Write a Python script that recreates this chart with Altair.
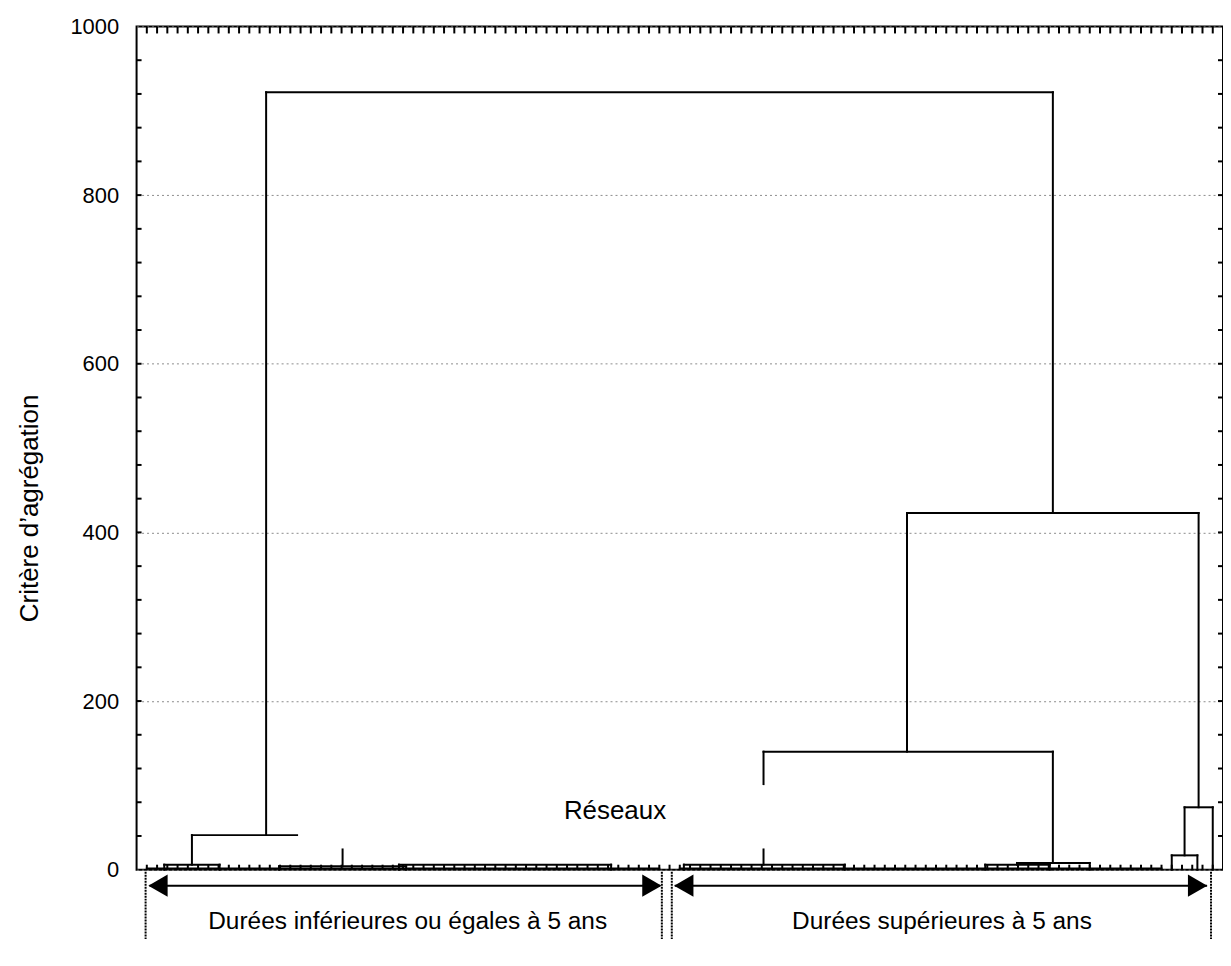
import altair as alt
import pandas as pd

# ---------------- data ----------------
n_leaves = 105
leaf_positions = list(range(1, n_leaves + 1))

# horizontal links of the dendrogram (left x, right x, merge height)
link_x_left = [12.64, 75.17, 61.17, 5.40, 2.70, 13.90, 25.60, 53.40, 85.90, 82.80, 102.25, 101.00,
               1.00, 53.00]
link_x_right = [89.40, 103.62, 89.40, 15.66, 8.10, 26.30, 46.30, 69.10, 93.00, 89.10, 105.00, 103.50,
                51.00, 100.00]
link_height = [922, 423, 140, 41, 6, 4, 6, 6, 8, 6, 74, 17,
               1.5, 1.5]

# vertical branches (x, bottom height, top height)
vert_x = [12.64, 89.40, 75.17, 103.62, 61.17, 61.17, 89.40, 5.40, 20.10, 102.25, 105.00, 101.00, 103.50,
          2.70, 8.10, 13.90, 26.30, 25.60, 46.30, 53.40, 69.10, 82.80, 89.10, 85.90, 93.00]
vert_bottom = [41, 423, 140, 74, 101.5, 6, 8, 6, 4, 17, 0, 0, 0,
               0, 0, 0, 0, 0, 0, 0, 0, 0, 0, 6, 0]
vert_top = [922, 922, 423, 423, 140, 24, 140, 41, 24, 74, 74, 17, 17,
            6, 6, 4, 4, 6, 6, 6, 6, 6, 6, 8, 8]

y_labels = [0, 200, 400, 600, 800, 1000]
y_minor = list(range(40, 1000, 40))

# annotations below the plot
group_labels = ["Durées inférieures ou égales à 5 ans", "Durées supérieures à 5 ans"]
group_label_x = [26.45, 78.58]
group_label_y = [-70.9, -70.9]
arrow_x_start = [1.26, 52.51]
arrow_x_end = [51.06, 104.45]
arrow_y = [-18.9, -18.9]
arrowhead_x = [2.09, 50.28, 53.39, 103.52]
arrowhead_shape = ["triangle-left", "triangle-right", "triangle-left", "triangle-right"]
divider_x = [0.88, 51.25, 52.22, 104.83]
divider_y_top = -2.4
divider_y_bottom = -90.0
inner_label = "Réseaux"
inner_label_x = 46.68
inner_label_y = 60.3

FONT = "Liberation Sans"

# ---------------- tables ----------------
segs = []
for xl, xr, h in zip(link_x_left, link_x_right, link_height):
    segs.append({"x": xl, "x2": xr, "y": h, "y2": h})
for vx, b, t in zip(vert_x, vert_bottom, vert_top):
    segs.append({"x": vx, "x2": vx, "y": b, "y2": t})
seg_df = pd.DataFrame(segs)

leaf_df = pd.DataFrame({"leaf": leaf_positions})
minor_df = pd.DataFrame({"y": y_minor})
arrow_df = pd.DataFrame({"x": arrow_x_start, "x2": arrow_x_end, "y": arrow_y})
head_df = pd.DataFrame({"x": arrowhead_x, "y": [arrow_y[0]] * 4, "shape": arrowhead_shape})
div_df = pd.DataFrame({"x": divider_x, "y": [divider_y_top] * 4, "y2": [divider_y_bottom] * 4})
lab_df = pd.DataFrame({"x": group_label_x, "y": group_label_y, "t": group_labels})
inner_df = pd.DataFrame({"x": [inner_label_x], "y": [inner_label_y], "t": [inner_label]})

W, H = 1090, 846
xs = alt.Scale(domain=[0, 106], nice=False, zero=False)
ys = alt.Scale(domain=[0, 1000], nice=False, zero=False)

yaxis = alt.Axis(
    values=y_labels, format="d", title="Critère d’agrégation",
    grid=True, gridDash=[2, 3], gridColor="#8c8c8c", gridWidth=1,
    ticks=False, tickSize=0, domain=False,
    labelFont=FONT, labelFontSize=22, labelColor="black", labelPadding=18,
    titleFont=FONT, titleFontSize=26, titleFontWeight="normal", titleColor="black",
    titleX=-99, titleY=483, titleAngle=270, titleAlign="center", titleBaseline="alphabetic",
)


def Y(field):
    return alt.Y(field, scale=ys, axis=yaxis)


def X(field):
    return alt.X(field, scale=xs, axis=None)


tree = alt.Chart(seg_df).mark_rule(color="black", strokeWidth=2, strokeCap="square").encode(
    x=X("x:Q"), x2="x2:Q", y=Y("y:Q"), y2="y2:Q",
)

top_ticks = alt.Chart(leaf_df).mark_rule(color="black", strokeWidth=2).encode(
    x=X("leaf:Q"), y=alt.value(0), y2=alt.value(7)
)
bottom_ticks = alt.Chart(leaf_df).mark_rule(color="black", strokeWidth=2).encode(
    x=X("leaf:Q"), y=alt.value(H - 5), y2=alt.value(H)
)
left_ticks = alt.Chart(minor_df).mark_rule(color="black", strokeWidth=2).encode(
    y=Y("y:Q"), x=alt.value(0), x2=alt.value(5)
)
right_ticks = alt.Chart(minor_df).mark_rule(color="black", strokeWidth=2).encode(
    y=Y("y:Q"), x=alt.value(W - 5), x2=alt.value(W)
)

arrows = alt.Chart(arrow_df).mark_rule(color="black", strokeWidth=2).encode(
    x=X("x:Q"), x2="x2:Q", y=Y("y:Q")
)
heads = alt.Chart(head_df).mark_point(filled=True, color="black", opacity=1, size=500).encode(
    x=X("x:Q"), y=Y("y:Q"), shape=alt.Shape("shape:N", scale=None),
)
dividers = alt.Chart(div_df).mark_rule(color="black", strokeWidth=2, strokeDash=[2, 1]).encode(
    x=X("x:Q"), y=Y("y:Q"), y2="y2:Q"
)
group_text = alt.Chart(lab_df).mark_text(font=FONT, fontSize=24.5, color="black",
                                         align="center", baseline="alphabetic").encode(
    x=X("x:Q"), y=Y("y:Q"), text="t:N"
)
inner_text = alt.Chart(inner_df).mark_text(font=FONT, fontSize=26, color="black",
                                           align="center", baseline="alphabetic").encode(
    x=X("x:Q"), y=Y("y:Q"), text="t:N"
)

chart = alt.layer(
    tree, top_ticks, bottom_ticks, left_ticks, right_ticks,
    arrows, heads, dividers, group_text, inner_text,
).properties(
    width=W, height=H,
    autosize=alt.AutoSizeParams(type="none"),
    padding={"left": 129, "top": 17, "right": 0, "bottom": 68},
    background="white",
).configure_view(stroke="black", strokeWidth=2)

chart.save("out.html", embed_options={"renderer": "svg", "actions": False})
